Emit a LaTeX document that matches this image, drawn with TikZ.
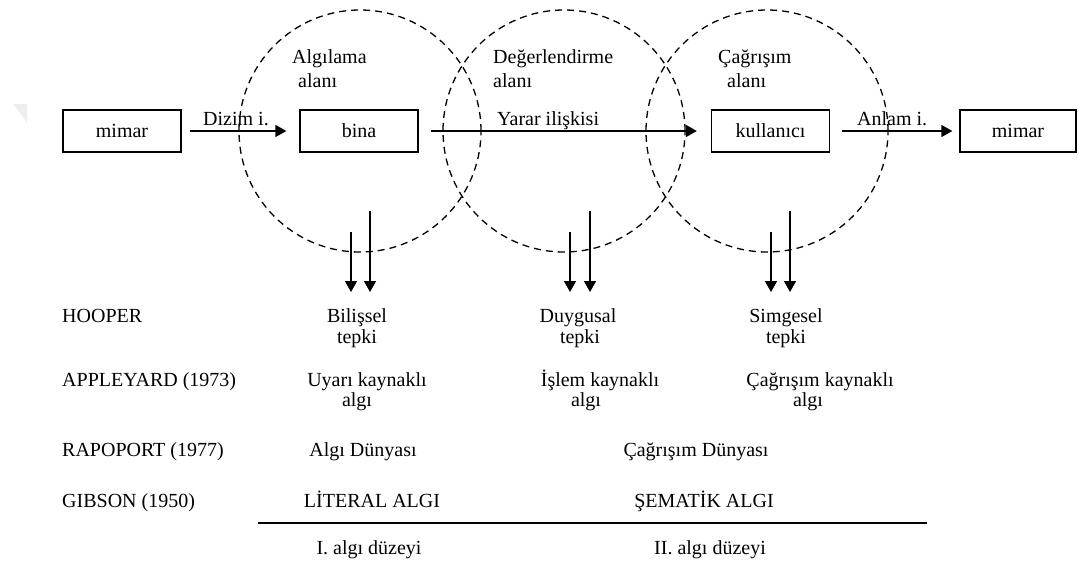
\documentclass[tikz,border=0pt]{standalone}
\usepackage{fontspec}
\setmainfont{Liberation Serif}
\usetikzlibrary{arrows.meta}
\begin{document}
\begin{tikzpicture}[x=1pt,y=-1pt,
  every node/.style={font=\fontsize{20}{24}\selectfont, inner sep=0pt},
  box/.style={draw, line width=1.3pt, minimum width=118pt, minimum height=42pt},
  arr/.style={line width=1.5pt, -{Triangle[length=11pt,width=12pt]}},
  darr/.style={line width=1.5pt, -{Triangle[length=11pt,width=12pt]}},
  zone/.style={draw, circle, line width=1.3pt, dash pattern=on 7pt off 5pt, minimum size=242pt},
  lbl/.style={anchor=base west},
  ctr/.style={anchor=base}]
\useasboundingbox (0,0) rectangle (1078,563);
% faint mark
\fill[black!7] (13,104) -- (27,104) -- (27,122) -- cycle;
% boxes
\node[box] (m1) at (122,131) {mimar};
\node[box] (bina) at (359,131) {bina};
\node[box] (kul) at (770.5,131) {kullanıcı};
\node[box, minimum width=116pt] (m2) at (1018,131) {mimar};
% horizontal arrows
\draw[arr, shorten <=8pt, shorten >=13pt] (m1) -- (bina);
\draw[arr, shorten <=12pt, shorten >=14pt] (bina) -- (kul);
\draw[arr, shorten <=12pt, shorten >=7pt] (kul) -- (m2);
\node[lbl] (t1) at (203,125) {Dizim i.};
\node[lbl] (t2) at (497,125) {Yarar ilişkisi};
\node[lbl] (t3) at (857,125) {Anlam i.};
% circles
\node[zone] (c1) at (360,131) {};
\node[zone] (c2) at (564,131) {};
\node[zone] (c3) at (767,131) {};
\node[lbl] (a1) at (292,63) {Algılama};
\node[lbl] (a1b) at (298,87) {alanı};
\node[lbl] (a2) at (493,63) {Değerlendirme};
\node[lbl] (a2b) at (493,87) {alanı};
\node[lbl] (a3) at (718,63) {Çağrışım};
\node[lbl] (a3b) at (727,87) {alanı};
% down arrows
\coordinate (p1s) at (351,232); \coordinate (p1e) at (351,292);
\coordinate (q1s) at (370,211); \coordinate (q1e) at (370,292);
\coordinate (p2s) at (570,232); \coordinate (p2e) at (570,292);
\coordinate (q2s) at (590,211); \coordinate (q2e) at (590,292);
\coordinate (p3s) at (771,232); \coordinate (p3e) at (771,292);
\coordinate (q3s) at (790,211); \coordinate (q3e) at (790,292);
\draw[darr] (p1s) -- (p1e);
\draw[darr] (q1s) -- (q1e);
\draw[darr] (p2s) -- (p2e);
\draw[darr] (q2s) -- (q2e);
\draw[darr] (p3s) -- (p3e);
\draw[darr] (q3s) -- (q3e);
% left labels
\node[lbl] (h) at (62,322) {HOOPER};
\node[lbl] (ap) at (62,386) {APPLEYARD (1973)};
\node[lbl] (ra) at (62,456) {RAPOPORT (1977)};
\node[lbl] (gi) at (62,507) {GIBSON (1950)};
% column 1
\node[ctr] (b1) at (357,322) {Bilişsel};
\node[ctr] (b2) at (357,343) {tepki};
\node[ctr] (u1) at (367,386) {Uyarı kaynaklı};
\node[ctr] (u2) at (357,406) {algı};
\node[ctr] (ad) at (363,456) {Algı Dünyası};
\node[ctr] (la) at (372,507) {LİTERAL ALGI};
\node[ctr] (d1) at (369,554) {I. algı düzeyi};
% column 2
\node[ctr] (du1) at (578,322) {Duygusal};
\node[ctr] (du2) at (580,343) {tepki};
\node[ctr] (is1) at (600,386) {İşlem kaynaklı};
\node[ctr] (is2) at (586,406) {algı};
% column 3
\node[ctr] (s1) at (786,322) {Simgesel};
\node[ctr] (s2) at (786,343) {tepki};
\node[ctr] (c31) at (820,386) {Çağrışım kaynaklı};
\node[ctr] (c32) at (808,406) {algı};
\node[ctr] (cd) at (696,456) {Çağrışım Dünyası};
\node[ctr] (sa) at (704,507) {ŞEMATİK ALGI};
\node[ctr] (d2) at (710,554) {II. algı düzeyi};
% bottom rule
\coordinate (ra1) at (258,523);
\coordinate (ra2) at (927,523);
\draw[line width=1.2pt] (ra1) -- (ra2);
\end{tikzpicture}
\end{document}
